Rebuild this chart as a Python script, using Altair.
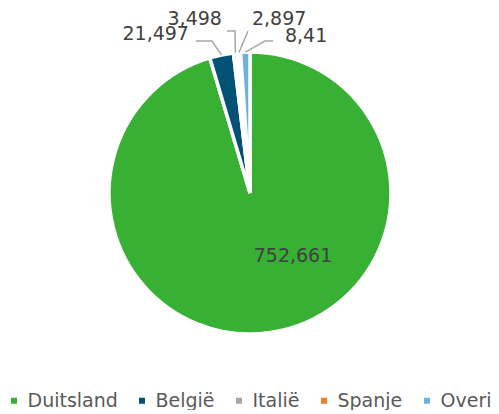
import altair as alt
import pandas as pd
import numpy as np

# ---- data ----
categories = ["Duitsland", "België", "Italië", "Spanje", "Overig"]
values = [752.661, 21.497, 3.498, 2.897, 8.41]
colors = ["#37b034", "#035275", "#a5a5a5", "#f47b20", "#6cb0e4"]

# ---- layout (svg pixels) ----
W, H = 483, 402
CX, CY, R = 242, 185, 141
FONT = "DejaVu Sans"

labels = [f"{v:g}".replace(".", ",") for v in values]
total = float(sum(values))
ends = np.cumsum(values)
starts = ends - np.array(values)
df = pd.DataFrame({"cat": categories, "value": values, "start": starts,
                   "end": ends, "label": labels, "idx": range(len(values))})

# label placement in units of the pie radius (centre = 0,0, up = +y)
label_layout = {
    "Duitsland": dict(pos=(0.305, -0.447), align="center", path=[]),
    "België": dict(pos=(-0.433, 1.128), align="right",
                   path=[(-0.270, 1.078), (-0.383, 1.078)]),
    "Italië": dict(pos=(-0.199, 1.234), align="right",
                   path=[(-0.106, 1.149), (-0.163, 1.149)]),
    "Spanje": dict(pos=(0.014, 1.234), align="left",
                   path=[(-0.014, 1.149)]),
    "Overig": dict(pos=(0.248, 1.114), align="left",
                   path=[(0.106, 1.078), (0.163, 1.078)]),
}

text_rows, line_rows = [], []
for i, c in enumerate(categories):
    lay = label_layout[c]
    text_rows.append({"cat": c, "label": labels[i], "x": lay["pos"][0],
                      "y": lay["pos"][1], "align": lay["align"]})
    if lay["path"]:
        mid = (starts[i] + ends[i]) / 2 / total * 2 * np.pi
        pts = [(np.sin(mid), np.cos(mid))] + lay["path"]
        for k, (px, py) in enumerate(pts):
            line_rows.append({"cat": c, "k": k, "x": px, "y": py})
tdf = pd.DataFrame(text_rows)
ldf = pd.DataFrame(line_rows)

xs = alt.Scale(domain=[-CX / R, (W - CX) / R], nice=False, zero=False)
ys = alt.Scale(domain=[-(H - CY) / R, CY / R], nice=False, zero=False)

pie = alt.Chart(df).mark_arc(outerRadius=R, stroke="white", strokeWidth=3.5).encode(
    theta=alt.Theta("start:Q", stack=None, scale=alt.Scale(domain=[0, total])),
    theta2="end:Q",
    x=alt.X(datum=0, type="quantitative", scale=xs, axis=None),
    y=alt.Y(datum=0, type="quantitative", scale=ys, axis=None),
    color=alt.Color("cat:N", sort=categories,
                    scale=alt.Scale(domain=categories, range=colors),
                    legend=alt.Legend(orient="none", legendX=-7, legendY=383,
                                      direction="horizontal", title=None,
                                      symbolType="square", symbolSize=36,
                                      symbolStrokeWidth=0, symbolOffset=3.5,
                                      labelFont=FONT, labelFontSize=19,
                                      labelColor="#595959", labelOffset=4,
                                      columnPadding=11, padding=0)),
)

leaders = alt.Chart(ldf).mark_line(color="#a6a6a6", strokeWidth=1.5).encode(
    x=alt.X("x:Q", scale=xs, axis=None),
    y=alt.Y("y:Q", scale=ys, axis=None),
    detail="cat:N",
    order="k:Q",
)

def text_layer(al):
    return alt.Chart(tdf).transform_filter(alt.datum.align == al).mark_text(
        align=al, baseline="middle", font=FONT, fontSize=19, color="#404040"
    ).encode(
        x=alt.X("x:Q", scale=xs, axis=None),
        y=alt.Y("y:Q", scale=ys, axis=None),
        text="label:N",
    )

chart = alt.layer(pie, leaders, text_layer("center"), text_layer("left"),
                  text_layer("right")).properties(
    width=W, height=H, padding=0, autosize=alt.AutoSizeParams(type="none"),
    background="white",
).configure_view(stroke=None)

chart.save("out.html", embed_options={"renderer": "svg", "actions": False})
